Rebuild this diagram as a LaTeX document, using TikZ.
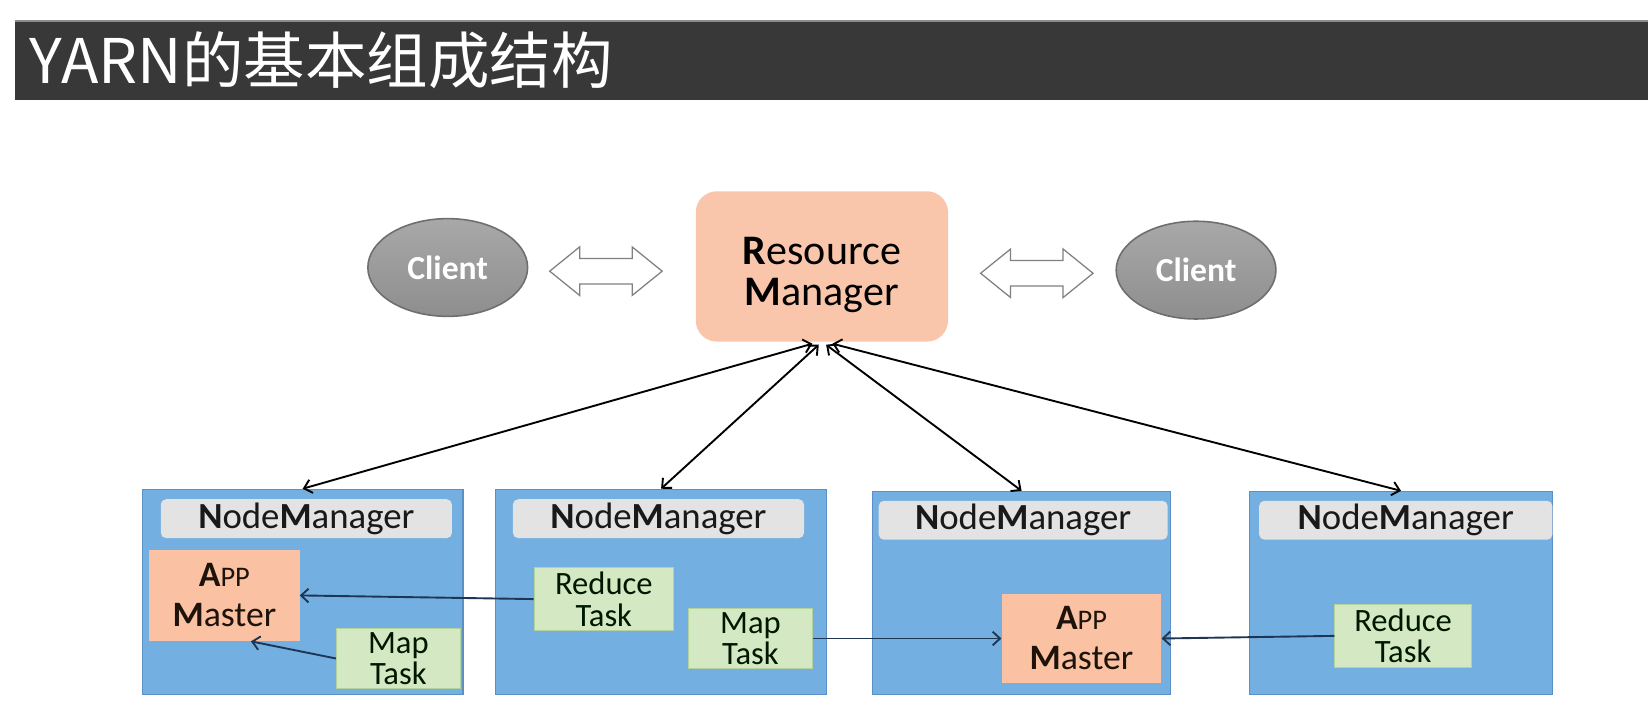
\documentclass[tikz,border=0pt]{standalone}
\usepackage{fontspec}
\setmainfont{Carlito}
\newfontfamily\cjk{Noto Sans CJK SC}
\usetikzlibrary{shapes.arrows,shapes.geometric,arrows.meta}
\definecolor{barcol}{HTML}{383838}
\definecolor{clienttop}{HTML}{A8A8A8}
\definecolor{clientbot}{HTML}{8E8E8E}
\definecolor{clientline}{HTML}{6E6E6E}
\definecolor{rmcol}{HTML}{F9C6AB}
\definecolor{nmcol}{HTML}{73AFE0}
\definecolor{nmline}{HTML}{5A90C6}
\definecolor{headcol}{HTML}{E3E3E3}
\definecolor{amcol}{HTML}{FAC2A3}
\definecolor{taskcol}{HTML}{D4E8C3}
\definecolor{taskline}{HTML}{B3D29C}
\definecolor{flowcol}{HTML}{1E3553}
\begin{document}
\begin{tikzpicture}[x=1pt,y=-1pt,>={Straight Barb[length=7pt,width=13pt]},
    client/.style={ellipse,top color=clienttop,bottom color=clientbot,draw=clientline,line width=1.5pt,minimum width=152,minimum height=93,text=white,font=\bfseries\fontsize{32}{32}\selectfont},
    hollow/.style={double arrow,draw=black!50,fill=white,line width=1.2pt,inner sep=11.5pt,double arrow head extend=11pt,double arrow tip angle=78,minimum height=107},
    rmbox/.style={rounded corners=20pt,fill=rmcol,minimum width=240,minimum height=143,align=center,text height=82pt,font=\fontsize{40}{39}\selectfont},
    nmbox/.style={fill=nmcol,draw=nmline,line width=1pt,anchor=north west},
    head/.style={rounded corners=5pt,fill=headcol,minimum height=37,font=\fontsize{35}{35}\selectfont,text=black!90},
    amaster/.style={fill=amcol,align=center,text=black!85!brown,font=\fontsize{34}{38}\selectfont},
    task/.style={fill=taskcol,draw=taskline,line width=0.8pt,align=center,text=black!85!green!60!black,font=\fontsize{31}{30}\selectfont},
    flow/.style={->,draw=flowcol,line width=1.8pt}]
  \useasboundingbox (0,0) rectangle (1568,670);
  \fill[barcol] (14,20) rectangle (1575,95);
  \draw[black!45,line width=1.5pt] (14,20) -- (1575,20);
  \draw
    (28,57) node[anchor=west,inner sep=0pt,text=white,font=\cjk\fontsize{58.5}{58.5}\selectfont] (title){YARN的基本组成结构}
    (426,254.5) node[client] (c1){Client}
    (1138,257) node[client] (c2){Client}
    (576.5,258) node[hollow] (d1){}
    (986.5,260) node[hollow] (d2){}
    (782,253.5) node[rmbox] (rm){\textbf{R}esource\\\textbf{M}anager};
  \draw
    (135,465) node[nmbox,minimum width=305,minimum height=195] (b1){}
    (471,465) node[nmbox,minimum width=315,minimum height=195] (b2){}
    (830,467) node[nmbox,minimum width=283,minimum height=193] (b3){}
    (1188,467) node[nmbox,minimum width=289,minimum height=193] (b4){}
    (291.5,493.5) node[head,minimum width=277] (h1){\textbf{N}ode\textbf{M}anager}
    (626.5,493.5) node[head,minimum width=277] (h2){\textbf{N}ode\textbf{M}anager}
    (973.5,495) node[head,minimum width=275] (h3){\textbf{N}ode\textbf{M}anager}
    (1337.5,495) node[head,minimum width=279] (h4){\textbf{N}ode\textbf{M}anager};
  \draw
    (213.5,566.5) node[amaster,minimum width=143,minimum height=87] (am1){\textbf{A}{\fontsize{27}{27}\selectfont PP}\\\textbf{M}aster}
    (1029,607.5) node[amaster,minimum width=152,minimum height=85] (am3){\textbf{A}{\fontsize{27}{27}\selectfont PP}\\\textbf{M}aster}
    (379,626.5) node[task,minimum width=118,minimum height=57] (mt1){Map\\Task}
    (574.5,570) node[task,minimum width=133,minimum height=60] (rt2){Reduce\\Task}
    (714,607.5) node[task,minimum width=118,minimum height=55] (mt2){Map\\Task}
    (1335,605) node[task,minimum width=130,minimum height=60] (rt4){Reduce\\Task};
  \coordinate (r1) at (773,327);
  \coordinate (r2) at (779,328);
  \coordinate (r3) at (786,328);
  \coordinate (r4) at (792,327);
  \begin{scope}[<->,line width=1.8pt]
    \draw (r1) to (b1.north);
    \draw (r2) to (b2.north);
    \draw (r3) to (b3.north);
    \draw (r4) to (b4.north);
  \end{scope}
  \begin{scope}[flow]
    \draw (rt2.west) to (am1.east);
    \draw (mt1.west) to (am1.-60);
    \draw (mt2.east) to (am3.west);
    \draw (rt4.west) to (am3.east);
  \end{scope}
\end{tikzpicture}
\end{document}
